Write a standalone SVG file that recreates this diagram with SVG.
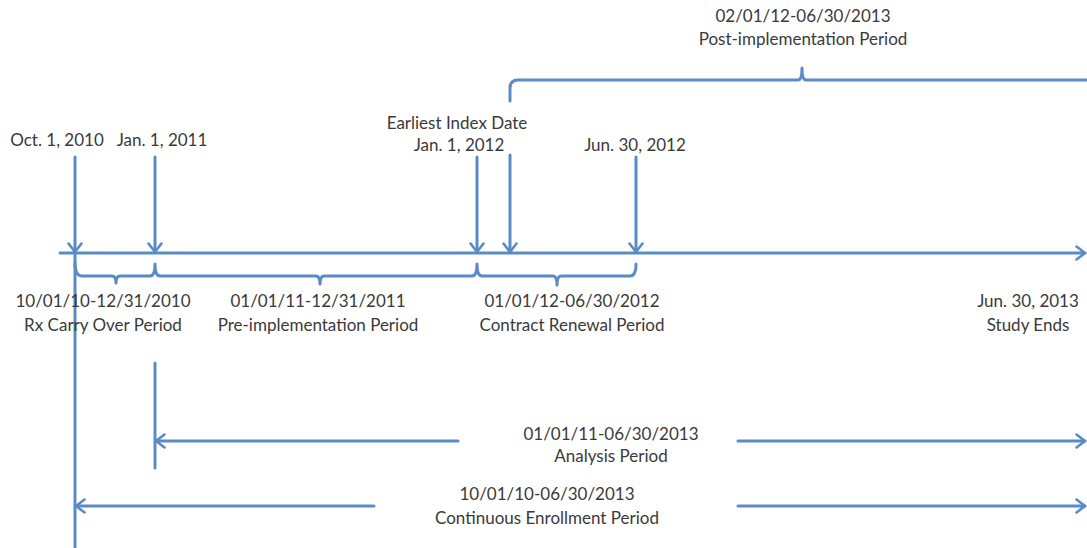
<svg xmlns="http://www.w3.org/2000/svg" width="1087" height="548" viewBox="0 0 1087 548">
  <defs>
    <marker id="chev" viewBox="0 0 12 16" markerWidth="12" markerHeight="16" refX="10.5" refY="8" orient="auto" markerUnits="userSpaceOnUse">
      <path d="M2,1.5 L10.5,8 L2,14.5" fill="none" stroke="#5b8bc6" stroke-width="2.6" stroke-linecap="round" stroke-linejoin="round"/>
    </marker>
    <style>
      .ln { fill: none; stroke: #5b8bc6; stroke-width: 3; stroke-linecap: round; stroke-linejoin: round; }
      .arr { marker-end: url(#chev); }
      text { font-family: Lato, "Liberation Sans", Arial, sans-serif; font-size: 17px; fill: #3a3a3a; text-anchor: middle; }
    </style>
  </defs>

  <!-- main timeline and connectors -->
  <g id="connectors">
    <line class="ln arr" x1="60" y1="253" x2="1085" y2="253"/>
    <!-- date markers -->
    <line class="ln arr" x1="75" y1="157" x2="75" y2="252"/>
    <line class="ln arr" x1="155" y1="157" x2="155" y2="252"/>
    <line class="ln arr" x1="477" y1="157" x2="477" y2="252"/>
    <line class="ln arr" x1="510" y1="155" x2="510" y2="252"/>
    <line class="ln arr" x1="636" y1="157" x2="636" y2="252"/>
    <!-- long enrollment start line -->
    <line class="ln" x1="75" y1="253" x2="75" y2="548"/>
    <!-- brackets under the timeline -->
    <path class="ln" d="M75,263 Q75,276 82,276 L112,276 Q116,276 116,283 Q116,276 120,276 L150,276 Q155,276 155,264 Q155,276 160,276 L316,276 Q320,276 320,284 Q320,276 324,276 L472,276 Q477,276 477,264 Q477,276 482,276 L553,276 Q557,276 557,285 Q557,276 561,276 L630,276 Q636,276 636,264"/>
    <!-- post-implementation bracket -->
    <path class="ln" d="M510,101 L510,88 Q510,80 518,80 L798,80 Q802,80 802,68 Q802,80 806,80 L1087,80"/>
    <!-- analysis period -->
    <line class="ln" x1="155" y1="363" x2="155" y2="468"/>
    <line class="ln arr" x1="458" y1="441" x2="156" y2="441"/>
    <line class="ln arr" x1="738" y1="441" x2="1085" y2="441"/>
    <!-- continuous enrollment period -->
    <line class="ln arr" x1="374" y1="506" x2="76" y2="506"/>
    <line class="ln arr" x1="738" y1="506" x2="1085" y2="506"/>
  </g>

  <g id="oct2010"><text x="57" y="146">Oct. 1, 2010</text></g>
  <g id="jan2011"><text x="162" y="146">Jan. 1, 2011</text></g>
  <g id="jan2012">
    <text x="457" y="129">Earliest Index Date</text>
    <text x="459" y="151">Jan. 1, 2012</text>
  </g>
  <g id="jun2012"><text x="635" y="151">Jun. 30, 2012</text></g>
  <g id="post">
    <text x="803" y="22">02/01/12-06/30/2013</text>
    <text x="803" y="45">Post-implementation Period</text>
  </g>
  <g id="carryover">
    <text x="103" y="307">10/01/10-12/31/2010</text>
    <text x="103" y="331">Rx Carry Over Period</text>
  </g>
  <g id="pre">
    <text x="318" y="307">01/01/11-12/31/2011</text>
    <text x="318" y="331">Pre-implementation Period</text>
  </g>
  <g id="renewal">
    <text x="572" y="307">01/01/12-06/30/2012</text>
    <text x="572" y="331">Contract Renewal Period</text>
  </g>
  <g id="studyends">
    <text x="1028" y="307">Jun. 30, 2013</text>
    <text x="1028" y="331">Study Ends</text>
  </g>
  <g id="analysis">
    <text x="611" y="440">01/01/11-06/30/2013</text>
    <text x="611" y="462">Analysis Period</text>
  </g>
  <g id="enrollment">
    <text x="547" y="500">10/01/10-06/30/2013</text>
    <text x="547" y="524">Continuous Enrollment Period</text>
  </g>
</svg>
